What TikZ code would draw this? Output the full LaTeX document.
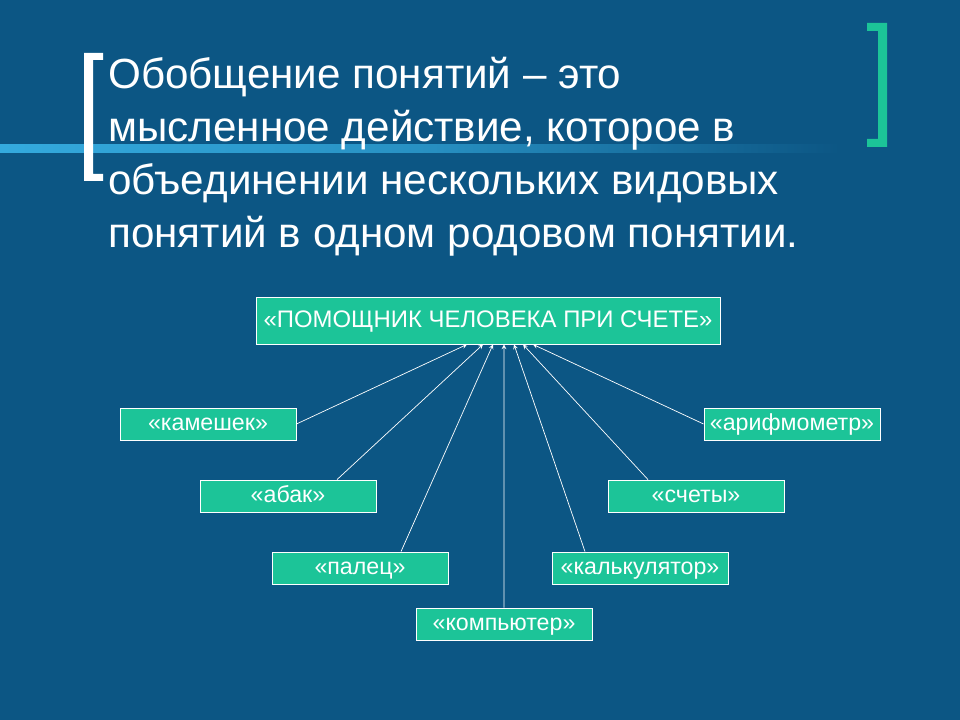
\documentclass[tikz,border=0pt]{standalone}
\usepackage{fontspec}
\setmainfont{Liberation Sans}
\definecolor{bgblue}{RGB}{12,86,132}
\definecolor{boxgreen}{RGB}{28,196,152}
\definecolor{lineblue}{RGB}{52,170,222}
\begin{document}
\begin{tikzpicture}[x=0.025cm, y=-0.025cm]
        \tikzstyle{box} = [draw=white, fill=boxgreen, text=white, line width=0.6pt, inner sep=0pt, minimum width=4.4cm, minimum height=0.8cm, text height=2.1ex, text depth=0.3ex, font=\fontsize{16.5}{18}\selectfont]
        \tikzstyle{line} = [text=white, anchor=base west, inner sep=0pt, font=\fontsize{30}{36}\selectfont]
        \fill[bgblue] (0,0) rectangle (960,720);
        % brackets and rule
        \shade[left color=lineblue, right color=bgblue, middle color=lineblue!70!bgblue] (0,145) rectangle (840,153);
        \fill[white] (103,53) -- (84,53) -- (84,181) -- (103,181) -- (103,174) -- (93,174) -- (93,60) -- (103,60) -- cycle;
        \fill[boxgreen] (867,23) -- (887,23) -- (887,147) -- (867,147) -- (867,139) -- (878,139) -- (878,31) -- (867,31) -- cycle;
        % title
        \node[line] (t1) at (108,89) {Обобщение понятий – это};
        \node[line] (t2) at (108,142) {мысленное действие, которое в};
        \node[line] (t3) at (108,195) {объединении нескольких видовых};
        \node[line] (t4) at (108,248) {понятий в одном родовом понятии.};
        % boxes
        \node[box, minimum width=11.6cm, minimum height=1.175cm, font=\fontsize{17}{19}\selectfont] (top) at (488,320.5) {«ПОМОЩНИК ЧЕЛОВЕКА ПРИ СЧЕТЕ»};
        \node[box] (kam) at (208,424) {«камешек»};
        \node[box] (arif) at (792,424) {«арифмометр»};
        \node[box] (abak) at (288,496) {«абак»};
        \node[box] (schety) at (696,496) {«счеты»};
        \node[box] (palec) at (360,568) {«палец»};
        \node[box] (kalk) at (640,568) {«калькулятор»};
        \node[box] (komp) at (504,624) {«компьютер»};
        \draw[->, >=stealth, white, line width=0.5pt] (kam.east) -- ([xshift=-0.525cm]top.south);
        \draw[->, >=stealth, white, line width=0.5pt] ([xshift=1.225cm]abak.north) -- ([xshift=-0.125cm]top.south);
        \draw[->, >=stealth, white, line width=0.5pt] ([xshift=1.025cm]palec.north) -- ([xshift=0.125cm]top.south);
        \draw[->, >=stealth, white, line width=0.5pt] (komp.north) -- ([xshift=0.4cm]top.south);
        \draw[->, >=stealth, white, line width=0.5pt] ([xshift=-1.375cm]kalk.north) -- ([xshift=0.65cm]top.south);
        \draw[->, >=stealth, white, line width=0.5pt] ([xshift=-1.2cm]schety.north) -- ([xshift=0.875cm]top.south);
        \draw[->, >=stealth, white, line width=0.5pt] (arif.west) -- ([xshift=1.125cm]top.south);
      \end{tikzpicture}
\end{document}
